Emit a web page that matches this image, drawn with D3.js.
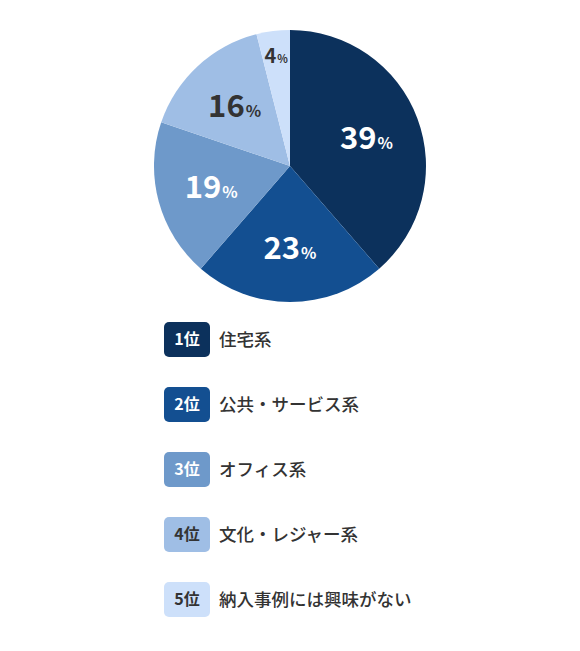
<!DOCTYPE html>
<meta charset="utf-8">
<style>
body { margin: 0; background: #fff; }
svg text { font-family: "Noto Sans CJK JP", "Noto Sans", sans-serif; }
</style>
<body>
<div id="chart"></div>
<script src="https://d3js.org/d3.v7.min.js"></script>
<script>

// data
var ranks   = ["1位", "2位", "3位", "4位", "5位"];
var names   = ["住宅系", "公共・サービス系", "オフィス系", "文化・レジャー系", "納入事例には興味がない"];
var shares  = [39, 23, 19, 16, 4];
var colors  = ["#0c315c", "#134f91", "#6e99ca", "#9fbee5", "#cde0fa"];
var inkDark = [false, false, false, true, true]; // dark text on the light slices

var data = shares.map(function(v, i){
    return {rank: ranks[i], name: names[i], value: v, color: colors[i], dark: inkDark[i]};
});

var chartWidth = 580, chartHeight = 651;
var cx = 290, cy = 166, radius = 136;

var svg = d3.select("#chart").append("svg")
    .attr("width", chartWidth)
    .attr("height", chartHeight);

var pie = d3.pie().sort(null).value(function(d){ return d.value; });
var arc = d3.arc().innerRadius(0).outerRadius(radius);
var labelArc = d3.arc().innerRadius(0).outerRadius(radius * 1.2);   // centroid at 0.6r
var smallArc = d3.arc().innerRadius(0).outerRadius(radius * 1.64);  // small slices sit further out

var g = svg.append("g").attr("transform", "translate(" + cx + "," + cy + ")");
var arcs = pie(data);

g.selectAll(".slice")
    .data(arcs)
    .enter().append("path")
    .attr("class", "slice")
    .attr("d", arc)
    .attr("fill", function(d){ return d.data.color; });

var labels = g.selectAll(".lbl")
    .data(arcs)
    .enter().append("text")
    .attr("class", "lbl")
    .attr("transform", function(d){
        var c = d.data.value < 10 ? smallArc.centroid(d) : labelArc.centroid(d);
        return "translate(" + c[0] + "," + c[1] + ")";
    })
    .attr("text-anchor", "middle")
    .attr("font-size", function(d){ return d.data.value < 10 ? 20 : 31; })
    .attr("dy", "0.36em")
    .attr("fill", function(d){ return d.data.dark ? "#333" : "#fff"; })
    .attr("font-weight", "bold");

labels.append("tspan")
    .text(function(d){ return d.data.value; });
labels.append("tspan")
    .attr("font-size", function(d){ return d.data.value < 10 ? 11 : 16; })
    .attr("dx", 1)
    .text("%");

// legend
var legendY = d3.scaleBand()
    .domain(ranks)
    .range([322, 322 + 65 * ranks.length])
    .paddingInner(0);

var rows = svg.selectAll(".row")
    .data(data)
    .enter().append("g")
    .attr("class", "row")
    .attr("transform", function(d){ return "translate(164," + legendY(d.rank) + ")"; });

rows.append("rect")
    .attr("width", 46)
    .attr("height", 35)
    .attr("rx", 5)
    .attr("fill", function(d){ return d.color; });

rows.append("text")
    .attr("x", 23)
    .attr("y", 17.5)
    .attr("dy", "0.36em")
    .attr("text-anchor", "middle")
    .attr("font-size", 16)
    .attr("font-weight", "bold")
    .attr("fill", function(d){ return d.dark ? "#333" : "#fff"; })
    .text(function(d){ return d.rank; });

rows.append("text")
    .attr("x", 55)
    .attr("y", 17.5)
    .attr("dy", "0.36em")
    .attr("font-size", 17.5)
    .attr("font-weight", 500)
    .attr("fill", "#333")
    .text(function(d){ return d.name; });

</script>
